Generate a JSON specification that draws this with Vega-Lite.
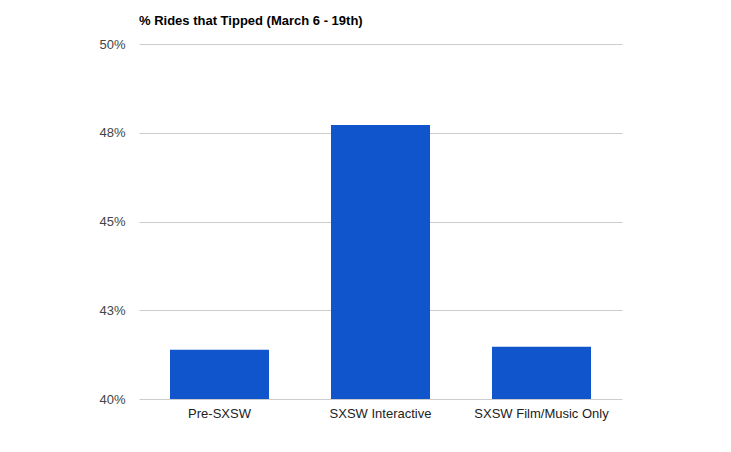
{
  "$schema": "https://vega.github.io/schema/vega-lite/v6.json",
  "width": 483,
  "height": 355,
  "autosize": {"type": "none"},
  "padding": {"left": 139, "top": 44, "right": 109, "bottom": 53},
  "background": "white",
  "title": {
    "text": "% Rides that Tipped (March 6 - 19th)",
    "anchor": "start",
    "frame": "group",
    "font": "Liberation Sans",
    "fontSize": 13,
    "fontWeight": "bold",
    "color": "#000000",
    "offset": 10
  },
  "data": {
    "values": [
      {"period": "Pre-SXSW", "pct": 41.39},
      {"period": "SXSW Interactive", "pct": 47.72},
      {"period": "SXSW Film/Music Only", "pct": 41.47}
    ]
  },
  "mark": {"type": "bar", "color": "#1155cc", "clip": true},
  "encoding": {
    "x": {
      "field": "period",
      "type": "nominal",
      "sort": null,
      "scale": {"paddingInner": 0.385, "paddingOuter": 0.1925},
      "axis": {
        "title": null,
        "labelAngle": 0,
        "domain": false,
        "ticks": false,
        "labelPadding": 8,
        "labelFont": "Liberation Sans",
        "labelFontSize": 13,
        "labelColor": "#222222"
      }
    },
    "y": {
      "field": "pct",
      "type": "quantitative",
      "scale": {"domain": [40, 50], "zero": false, "nice": false},
      "axis": {
        "title": null,
        "values": [40, 42.5, 45, 47.5, 50],
        "labelExpr": "format(datum.value, '.0f') + '%'",
        "domain": false,
        "ticks": false,
        "labelPadding": 14,
        "labelFont": "Liberation Sans",
        "labelFontSize": 13,
        "labelColor": "#444444",
        "gridColor": "#cccccc",
        "gridOpacity": 1
      }
    },
    "y2": {"datum": 40}
  },
  "config": {"view": {"stroke": null}}
}
